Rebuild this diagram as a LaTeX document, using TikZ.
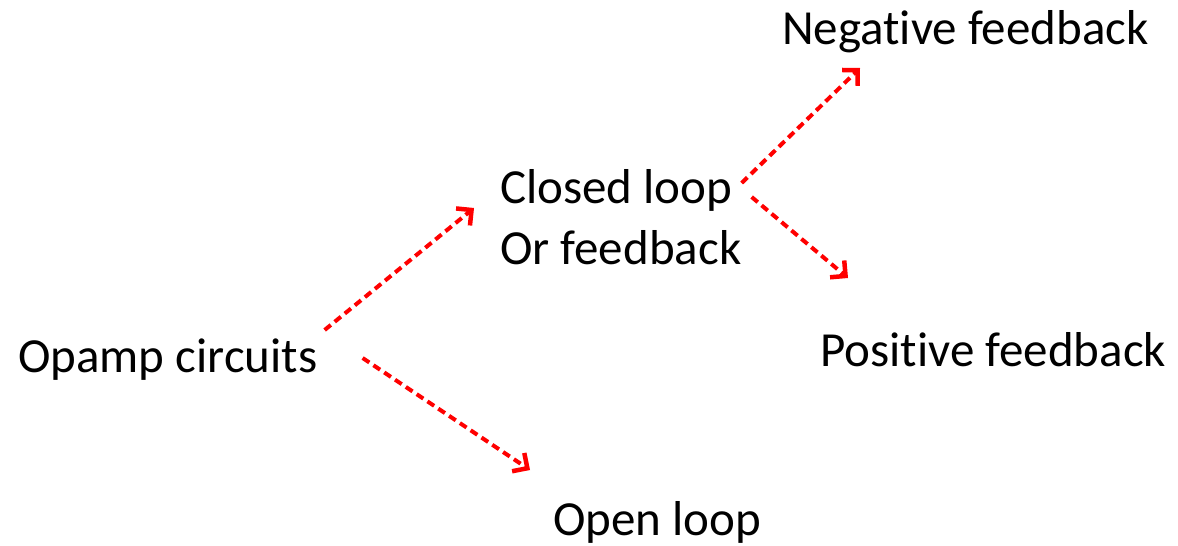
\documentclass[tikz,border=0pt]{standalone}
\usepackage{fontspec}
\setmainfont[Ligatures={NoCommon}]{Carlito}
\usetikzlibrary{arrows.meta}
% keep "t" and "i" as separate glyphs
\newcommand\tisep{\kern0pt }
\begin{document}
\begin{tikzpicture}[x=1pt,y=-1pt,
  lbl/.style={inner sep=0pt,anchor=west,font=\fontsize{49}{58}\selectfont},
  link/.style={draw=red,line width=4pt,dash pattern=on 8pt off 5pt,
    -{Straight Barb[length=11pt,width=22pt,line width=4.5pt]}}]
\useasboundingbox (0,0) rectangle (1178,546);
% labels
\node[lbl] (opamp)  at (18,360)  {Opamp circuits};
\node[lbl] (closed) at (500,190) {Closed loop};
\node[lbl] (orfb)   at (500,248) {Or feedback};
\node[lbl] (neg)    at (782,32)  {Negat\tisep ive feedback};
\node[lbl] (pos)    at (820,350) {Posit\tisep ive feedback};
\node[lbl] (open)   at (553,522) {Open loop};
% dashed connectors between the labels
\draw[link] ([shift={(7,-30)}]opamp.east)  -- ([shift={(-26,18)}]closed.west);
\draw[link] ([shift={(45,-2)}]opamp.east)  -- ([shift={(-23,-52)}]open.west);
\draw[link] ([shift={(9,-7)}]closed.east)  -- ([shift={(78,36)}]neg.west);
\draw[link] ([shift={(19,7)}]closed.east)  -- ([shift={(28,-72)}]pos.west);
\end{tikzpicture}
\end{document}
